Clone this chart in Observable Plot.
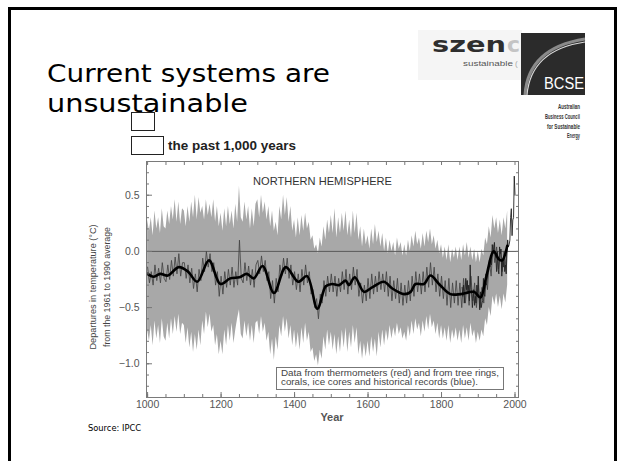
<!DOCTYPE html>
<html><head><meta charset="utf-8">
<script src="https://cdn.jsdelivr.net/npm/d3@7"></script>
<script src="https://cdn.jsdelivr.net/npm/@observablehq/plot@0.6"></script>
<style>
html,body{margin:0;padding:0;background:#fff;}
#page{position:relative;width:619px;height:461px;overflow:hidden;background:#fff;}
#border{position:absolute;left:8px;top:7px;width:603px;height:480px;border:3px solid #000;border-bottom:none;}
#chart{position:absolute;left:0;top:0;}
#ov{position:absolute;left:0;top:0;}
</style></head>
<body><div id="page">
<div id="border"></div>
<div id="chart"></div>
<svg id="ov" width="619" height="461">
  <text x="47" y="82" font-family="DejaVu Sans" font-size="25.5" fill="#000" textLength="283" lengthAdjust="spacingAndGlyphs">Current systems are</text>
  <text x="47" y="112" font-family="DejaVu Sans" font-size="25.5" fill="#000" textLength="201" lengthAdjust="spacingAndGlyphs">unsustainable</text>
  <rect x="131.5" y="112.5" width="23" height="18" fill="none" stroke="#222"/>
  <rect x="131.5" y="136.5" width="32" height="18" fill="none" stroke="#222"/>
  <text x="168" y="150" font-family="Liberation Sans" font-weight="bold" font-size="13" fill="#222" textLength="128" lengthAdjust="spacingAndGlyphs">the past 1,000 years</text>

  <rect x="418" y="30" width="104" height="50" fill="#f5f5f5"/>
  <text x="432" y="52" font-family="DejaVu Sans" font-weight="bold" font-size="22" fill="#2e2e2e" textLength="74" lengthAdjust="spacingAndGlyphs">szen</text>
  <text x="507" y="52" font-family="DejaVu Sans" font-weight="bold" font-size="22" fill="#c4c4c4">c</text>
  <text x="463" y="66" font-family="Liberation Sans" font-size="8" fill="#555" textLength="50" lengthAdjust="spacingAndGlyphs">sustainable</text>
  <text x="515" y="66" font-family="Liberation Sans" font-size="8" fill="#aaa">(</text>
  <rect x="521" y="33" width="64" height="62" fill="#2b2b2b"/>
  <path d="M525,95 Q528,48 585,39" fill="none" stroke="#8a8a8a" stroke-width="3"/>
  <path d="M527,95 Q531,50 585,42" fill="none" stroke="#d8d8d8" stroke-width="1.2"/>
  <text x="544" y="89" font-family="Liberation Sans Narrow, Liberation Sans" font-size="16" fill="#fff" textLength="40" lengthAdjust="spacingAndGlyphs">BCSE</text>
  <g font-family="Liberation Sans Narrow, Liberation Sans" font-weight="bold" font-size="6.5" fill="#333" text-anchor="end">
    <text x="580" y="109" textLength="22" lengthAdjust="spacingAndGlyphs">Australian</text>
    <text x="580" y="119" textLength="35" lengthAdjust="spacingAndGlyphs">Business Council</text>
    <text x="580" y="129" textLength="33" lengthAdjust="spacingAndGlyphs">for Sustainable</text>
    <text x="580" y="138" textLength="13" lengthAdjust="spacingAndGlyphs">Energy</text>
  </g>

  <text x="253" y="185" font-family="Liberation Sans" font-size="10.5" fill="#333" textLength="139" lengthAdjust="spacingAndGlyphs">NORTHERN HEMISPHERE</text>
  <rect x="276.5" y="367.5" width="227" height="22" fill="#fff" stroke="#777"/>
  <text x="281" y="375.5" font-family="Liberation Sans" font-size="9" fill="#444" textLength="218" lengthAdjust="spacingAndGlyphs">Data from thermometers (red) and from tree rings,</text>
  <text x="281" y="385" font-family="Liberation Sans" font-size="9" fill="#444" textLength="197" lengthAdjust="spacingAndGlyphs">corals, ice cores and historical records (blue).</text>

  <text transform="translate(96,287) rotate(-90)" text-anchor="middle" font-family="Liberation Sans" font-size="9.5" fill="#444" textLength="125" lengthAdjust="spacingAndGlyphs">Departures in temperature (°C)</text>
  <text transform="translate(110,287) rotate(-90)" text-anchor="middle" font-family="Liberation Sans" font-size="9.5" fill="#444" textLength="120" lengthAdjust="spacingAndGlyphs">from the 1961 to 1990 average</text>
  <text x="332" y="421" text-anchor="middle" font-family="Liberation Sans" font-weight="bold" font-size="11" fill="#555">Year</text>

  <text x="88" y="431" font-family="DejaVu Sans" font-size="8.3" fill="#000">Source: IPCC</text>
</svg>
</div>
<script>
// Reconstruction (tree rings, corals, ice cores, historical records), 5-year samples 1000–1980
const reconYears = d3.range(1000, 1981, 5);
const reconVals = [
 -0.14,-0.28,-0.18,-0.30,-0.12,-0.26,-0.15,-0.28,-0.10,-0.24,
 -0.27,-0.12,-0.25,-0.08,-0.22,-0.05,-0.20,-0.02,-0.22,-0.10,
 -0.10,-0.24,-0.12,-0.28,-0.15,-0.33,-0.20,-0.36,-0.16,-0.26,
 -0.06,-0.18,0.00,-0.14,-0.02,-0.18,-0.10,-0.30,-0.18,-0.40,
 -0.22,-0.38,-0.18,-0.32,-0.16,-0.30,-0.14,-0.32,-0.18,-0.30,
 0.10,-0.24,-0.28,-0.10,-0.26,-0.13,-0.30,-0.16,-0.32,-0.12,
 -0.08,-0.20,-0.04,-0.18,-0.08,-0.26,-0.18,-0.42,-0.26,-0.46,
 -0.24,-0.36,-0.12,-0.22,-0.06,-0.20,-0.06,-0.24,-0.12,-0.30,
 -0.18,-0.34,-0.20,-0.36,-0.16,-0.30,-0.12,-0.28,-0.18,-0.38,
 -0.34,-0.50,-0.42,-0.60,-0.38,-0.46,-0.26,-0.40,-0.22,-0.36,
 -0.20,-0.36,-0.22,-0.40,-0.24,-0.36,-0.18,-0.34,-0.16,-0.38,
 -0.20,-0.34,-0.14,-0.30,-0.16,-0.40,-0.28,-0.46,-0.30,-0.44,
 -0.24,-0.42,-0.20,-0.38,-0.22,-0.36,-0.18,-0.34,-0.20,-0.36,
 -0.18,-0.40,-0.22,-0.44,-0.26,-0.42,-0.24,-0.46,-0.28,-0.48,
 -0.30,-0.46,-0.26,-0.44,-0.22,-0.40,-0.18,-0.36,-0.20,-0.38,
 -0.18,-0.36,-0.14,-0.32,-0.10,-0.30,-0.14,-0.36,-0.20,-0.40,
 -0.22,-0.42,-0.26,-0.48,-0.24,-0.50,-0.28,-0.46,-0.26,-0.48,
 -0.28,-0.50,-0.24,-0.46,-0.26,-0.48,-0.22,-0.44,-0.28,-0.50,
 -0.30,-0.50,-0.32,-0.46,-0.20,-0.34,-0.08,-0.22,0.06,-0.10,
 0.04,-0.16,0.02,-0.18,0.00,-0.12,0.10
];
// Uncertainty range (grey band), same 5-year samples
const bandHigh = [
 0.28,0.18,0.30,0.14,0.36,0.20,0.30,0.16,0.38,0.22,
 0.20,0.36,0.24,0.40,0.28,0.46,0.26,0.44,0.24,0.38,
 0.36,0.22,0.40,0.26,0.44,0.30,0.50,0.28,0.48,0.34,
 0.40,0.28,0.46,0.32,0.42,0.30,0.46,0.26,0.40,0.22,
 0.34,0.18,0.38,0.22,0.40,0.24,0.36,0.20,0.42,0.26,
 0.58,0.30,0.26,0.44,0.28,0.40,0.20,0.38,0.22,0.42,
 0.46,0.30,0.50,0.34,0.44,0.28,0.40,0.22,0.36,0.18,
 0.26,0.14,0.40,0.28,0.50,0.32,0.48,0.26,0.40,0.18,
 0.28,0.12,0.30,0.14,0.32,0.18,0.34,0.20,0.26,0.10,
 0.14,0.02,0.06,-0.02,0.12,0.04,0.22,0.10,0.28,0.16,
 0.32,0.16,0.38,0.12,0.30,0.16,0.34,0.18,0.36,0.14,
 0.28,0.12,0.36,0.16,0.34,0.10,0.22,0.04,0.20,0.06,
 0.14,0.02,0.20,0.06,0.24,0.08,0.18,0.04,0.16,0.00,
 0.12,-0.02,0.10,0.00,0.08,-0.04,0.12,0.02,0.08,-0.04,
 0.06,-0.04,0.10,0.00,0.14,0.04,0.18,0.06,0.12,0.02,
 0.16,0.04,0.18,0.08,0.20,0.06,0.14,0.02,0.10,-0.02,
 0.06,-0.06,0.04,-0.08,0.06,-0.10,0.02,-0.06,0.04,-0.08,
 0.04,-0.08,0.06,-0.04,0.08,-0.06,0.04,-0.08,0.02,-0.10,
 0.00,-0.10,0.02,-0.04,0.12,0.06,0.22,0.12,0.32,0.20,
 0.30,0.16,0.28,0.14,0.30,0.20,0.36
];
const bandLow = [
 -0.70,-0.80,-0.66,-0.84,-0.62,-0.78,-0.66,-0.82,-0.60,-0.76,
 -0.80,-0.64,-0.78,-0.60,-0.74,-0.58,-0.72,-0.56,-0.74,-0.64,
 -0.66,-0.82,-0.68,-0.86,-0.72,-0.90,-0.74,-0.88,-0.70,-0.84,
 -0.62,-0.74,-0.54,-0.68,-0.56,-0.72,-0.66,-0.84,-0.74,-0.92,
 -0.80,-0.92,-0.70,-0.84,-0.66,-0.80,-0.64,-0.82,-0.70,-0.60,
 -0.52,-0.74,-0.78,-0.62,-0.76,-0.64,-0.80,-0.66,-0.82,-0.64,
 -0.62,-0.74,-0.58,-0.72,-0.64,-0.80,-0.72,-0.92,-0.78,-0.97,
 -0.76,-0.88,-0.66,-0.76,-0.58,-0.72,-0.60,-0.78,-0.66,-0.84,
 -0.70,-0.86,-0.72,-0.88,-0.68,-0.82,-0.64,-0.80,-0.72,-0.90,
 -0.86,-0.98,-0.92,-1.02,-0.88,-0.96,-0.76,-0.88,-0.70,-0.84,
 -0.72,-0.88,-0.74,-0.92,-0.76,-0.90,-0.70,-0.86,-0.68,-0.90,
 -0.72,-0.86,-0.66,-0.82,-0.68,-0.92,-0.80,-0.96,-0.82,-0.94,
 -0.80,-0.94,-0.76,-0.90,-0.78,-0.94,-0.72,-0.86,-0.70,-0.84,
 -0.70,-0.80,-0.66,-0.78,-0.68,-0.76,-0.64,-0.74,-0.68,-0.78,
 -0.72,-0.80,-0.66,-0.76,-0.62,-0.74,-0.60,-0.70,-0.64,-0.76,
 -0.62,-0.72,-0.58,-0.70,-0.56,-0.68,-0.62,-0.74,-0.64,-0.78,
 -0.66,-0.78,-0.68,-0.80,-0.66,-0.82,-0.70,-0.78,-0.68,-0.80,
 -0.70,-0.82,-0.66,-0.78,-0.68,-0.80,-0.64,-0.76,-0.70,-0.82,
 -0.72,-0.80,-0.70,-0.76,-0.60,-0.66,-0.50,-0.58,-0.40,-0.48,
 -0.38,-0.50,-0.40,-0.52,-0.38,-0.46,-0.30
];
// Thermometer record, 2-year samples 1856–2000
const instYears = d3.range(1856, 2001, 2);
const instVals = [
 -0.32,-0.40,-0.30,-0.46,-0.36,-0.24,-0.34,-0.26,-0.38,-0.30,
 -0.44,-0.12,-0.32,-0.38,-0.50,-0.42,-0.34,-0.48,-0.40,-0.46,
 -0.30,-0.38,-0.22,-0.40,-0.52,-0.36,-0.50,-0.46,-0.44,-0.24,
 -0.38,-0.40,-0.28,-0.30,-0.26,-0.14,-0.18,-0.10,-0.14,-0.08,
 -0.12,0.06,0.02,-0.02,0.08,-0.04,-0.06,-0.18,0.00,-0.16,
 -0.20,0.04,-0.02,0.02,-0.22,-0.08,-0.14,-0.04,-0.18,-0.12,
 -0.20,-0.02,0.10,0.04,0.06,0.10,0.30,0.38,0.14,0.28,
 0.30,0.67,0.50
];
// Smoothed curve
const smoothYears = [1000,1015,1035,1055,1085,1110,1135,1167,1198,1225,1250,1270,1289,1313,1344,1376,1410,1434,1462,1485,1502,1521,1539,1548,1564,1589,1611,1643,1666,1698,1716,1729,1752,1770,1793,1824,1852,1888,1906,1920,1942,1956,1965,1979];
const smoothVals = [-0.20,-0.225,-0.20,-0.215,-0.14,-0.18,-0.27,-0.08,-0.29,-0.24,-0.23,-0.20,-0.24,-0.13,-0.37,-0.14,-0.27,-0.22,-0.51,-0.31,-0.29,-0.30,-0.26,-0.30,-0.23,-0.36,-0.32,-0.27,-0.33,-0.38,-0.36,-0.29,-0.29,-0.215,-0.29,-0.38,-0.38,-0.36,-0.41,-0.25,0.00,-0.07,-0.08,0.05];
// Axis ticks
const xLabelTicks = [1000,1200,1400,1600,1800,2000];
const xMinorTicks = [1000,1050,1100,1150,1200,1250,1300,1350,1400,1450,1500,1550,1600,1650,1700,1750,1800,1850,1900,1950,2000];
const yLabelTicks = [-1.0,-0.5,0.0,0.5];
const yMinorTicks = [-1.2,-1.1,-1.0,-0.9,-0.8,-0.7,-0.6,-0.5,-0.4,-0.3,-0.2,-0.1,0.0,0.1,0.2,0.3,0.4,0.5,0.6,0.7];

const recon = reconYears.map((year, i) => ({year, value: reconVals[i]}));
const band = reconYears.map((year, i) => ({year, hi: bandHigh[i], lo: bandLow[i]}));
const instr = instYears.map((year, i) => ({year, value: instVals[i]}));
const smooth = smoothYears.map((year, i) => ({year, value: smoothVals[i]}));
const blank = () => "";

const chart = Plot.plot({
  width: 619, height: 461,
  marginLeft: 146, marginRight: 101, marginTop: 161, marginBottom: 64,
  style: {fontFamily: "'Liberation Sans', Arial, sans-serif", fontSize: "10.5px", color: "#555", background: "transparent"},
  x: {domain: [997, 2009.5]},
  y: {domain: [-1.30, 0.80]},
  marks: [
    Plot.areaY(band, {x: "year", y1: "lo", y2: "hi", fill: "#a8a8a8"}),
    Plot.ruleY([0], {stroke: "#5a5a5a", strokeWidth: 1}),
    Plot.line(recon, {x: "year", y: "value", stroke: "#444", strokeWidth: 0.85}),
    Plot.line(instr, {x: "year", y: "value", stroke: "#222", strokeWidth: 0.9}),
    Plot.line(smooth, {x: "year", y: "value", stroke: "#000", strokeWidth: 2.6, curve: "catmull-rom"}),
    Plot.frame({stroke: "#7a7a7a"}),
    Plot.axisX(xLabelTicks, {anchor: "bottom", tickSize: 0, tickPadding: 3, tickFormat: d => String(d), label: null}),
    Plot.axisX(xMinorTicks, {anchor: "bottom", tickSize: -3, tickFormat: blank, label: null, stroke: "#777"}),
    Plot.axisX(xLabelTicks, {anchor: "bottom", tickSize: -5, tickFormat: blank, label: null, stroke: "#777"}),
    Plot.axisX(xMinorTicks, {anchor: "top", tickSize: -3, tickFormat: blank, label: null, stroke: "#777"}),
    Plot.axisY(yLabelTicks, {anchor: "left", tickSize: 0, tickPadding: 7, tickFormat: d3.format(".1f"), label: null}),
    Plot.axisY(yMinorTicks, {anchor: "left", tickSize: -3, tickFormat: blank, label: null, stroke: "#777"}),
    Plot.axisY(yLabelTicks, {anchor: "left", tickSize: -6, tickFormat: blank, label: null, stroke: "#777"}),
    Plot.axisY(yMinorTicks, {anchor: "right", tickSize: -3, tickFormat: blank, label: null, stroke: "#777"})
  ]
});
document.getElementById("chart").appendChild(chart);
</script>
</body></html>
